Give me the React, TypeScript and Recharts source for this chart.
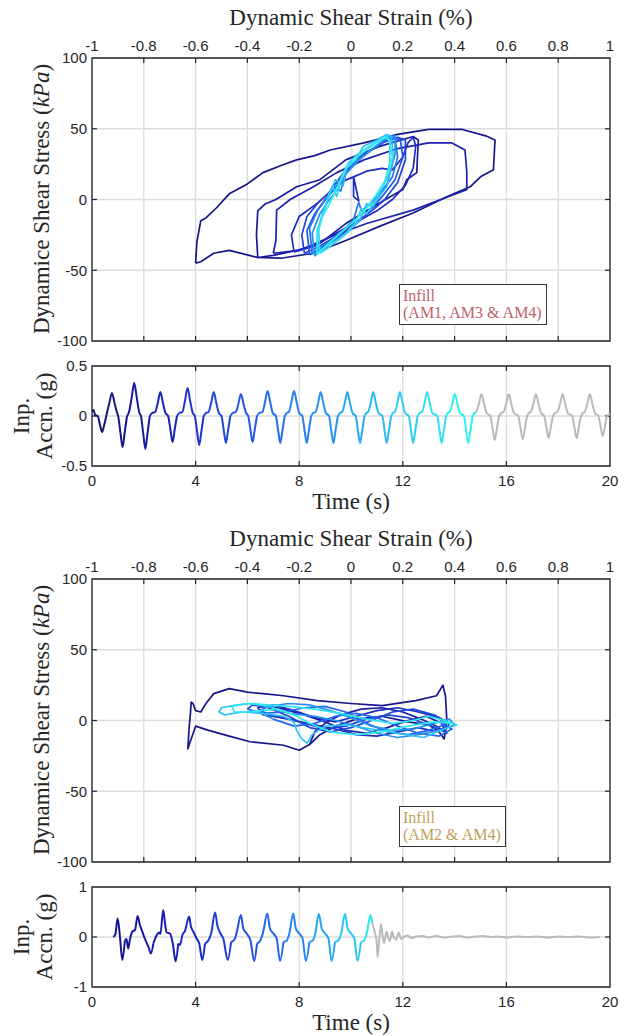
import React from "react";
import { LineChart, Line, XAxis, YAxis, CartesianGrid, ReferenceArea, ReferenceLine } from "recharts";

// axis ticks
const strainTicks = [-1, -0.8, -0.6, -0.4, -0.2, 0, 0.2, 0.4, 0.6, 0.8, 1];
const stressTicks = [-100, -50, 0, 50, 100];
const timeTicks = [0, 4, 8, 12, 16, 20];
const acc1Ticks = [-0.5, 0, 0.5];
const acc2Ticks = [-1, 0, 1];

// top panel loops (strain %, stress kPa) - AM1, AM3 & AM4
const p1Loop1 = [[-0.6, -45], [-0.595, -30], [-0.58, -15], [-0.56, -13], [-0.52, -6], [-0.47, 4], [-0.4, 11], [-0.34, 19], [-0.27, 24], [-0.21, 28], [-0.14, 31], [-0.08, 35], [0.05, 40], [0.18, 46], [0.3, 49.5], [0.43, 49.5], [0.52, 45], [0.556, 42], [0.55, 21], [0.5, 16], [0.46, 9], [0.37, 2], [0.24, -9.5], [0.11, -19], [-0.02, -29], [-0.145, -38], [-0.27, -41.5], [-0.36, -41], [-0.47, -36], [-0.53, -38], [-0.58, -44], [-0.6, -45]];
const p1Loop2 = [[-0.36, -41], [-0.365, -25], [-0.36, -8], [-0.33, -3], [-0.29, 0], [-0.21, 9], [-0.12, 14], [-0.02, 28], [0.11, 37.5], [0.24, 44.5], [0.26, 42], [0.256, 28], [0.254, 19], [0.215, 14], [0.2, 7], [0.11, -2.5], [-0.02, -17], [-0.12, -31], [-0.21, -36], [-0.3, -39.5], [-0.36, -41]];
const p1Loop3 = [[-0.3, -38], [-0.29, -29], [-0.287, -7.5], [-0.235, 0], [-0.145, 9], [-0.055, 19], [0.05, 28], [0.18, 36], [0.3, 40], [0.39, 40], [0.44, 35], [0.447, 20], [0.447, 7], [0.39, 3], [0.24, -7.5], [0.06, -17], [-0.08, -26.5], [-0.2, -36], [-0.3, -38]];
const p1Loop4 = [[-0.22, -37], [-0.23, -25], [-0.2, -12], [-0.14, -4], [-0.08, 5], [-0.03, 13], [0.01, 16], [0.01, 2], [0.03, -1], [0.01, 16], [0.06, 20], [0.12, 22], [0.16, 21], [0.2, 30], [0.22, 40], [0.24, 44], [0.25, 38], [0.24, 22], [0.21, 10], [0.16, 0], [0.1, -8], [0.02, -16], [-0.06, -24], [-0.14, -33], [-0.22, -37]];
const p1Loop5 = [[-0.18, -38], [-0.19, -25], [-0.17, -12], [-0.13, -3], [-0.08, 6], [-0.04, 16], [0, 26], [0.06, 33], [0.12, 40], [0.18, 44], [0.21, 42], [0.21, 28], [0.18, 12], [0.13, 0], [0.08, -8], [0.02, -16], [-0.05, -25], [-0.12, -33], [-0.18, -38]];
const p1Loop6 = [[-0.16, -39], [-0.17, -22], [-0.14, -10], [-0.1, 0], [-0.06, 8], [-0.03, 18], [0.02, 27], [0.08, 35], [0.14, 42], [0.19, 43], [0.2, 30], [0.17, 14], [0.12, 2], [0.08, -6], [0.04, -14], [0, -20], [-0.06, -28], [-0.11, -35], [-0.16, -39]];
const p1Loop7 = [[-0.15, -38], [-0.16, -20], [-0.13, -8], [-0.09, 2], [-0.07, 10], [-0.04, 6], [-0.02, 18], [0.02, 26], [0.07, 34], [0.13, 42], [0.17, 44], [0.18, 30], [0.16, 16], [0.11, 4], [0.07, -4], [0.04, -8], [0.03, -2], [0.01, -14], [-0.04, -24], [-0.1, -32], [-0.15, -38]];
const p1Loop8 = [[-0.14, -40], [-0.15, -24], [-0.12, -10], [-0.09, -2], [-0.05, 8], [-0.02, 18], [0.03, 28], [0.09, 37], [0.14, 44], [0.17, 45], [0.17, 32], [0.15, 18], [0.11, 6], [0.07, -4], [0.03, -12], [-0.02, -20], [-0.07, -28], [-0.11, -34], [-0.14, -40]];
const p1Loop9 = [[-0.13, -38], [-0.13, -22], [-0.11, -10], [-0.08, 4.6], [-0.06, 14], [-0.03, 10], [-0.017, 22], [0.02, 28], [0.047, 37.5], [0.1, 42], [0.138, 46], [0.157, 44.5], [0.163, 28], [0.138, 9], [0.1, 0], [0.086, -5], [0.06, -3], [0.035, -14.5], [-0.017, -24], [-0.08, -31], [-0.13, -38]];
const p1Loop10 = [[-0.12, -38], [-0.125, -20], [-0.1, -6], [-0.085, 4], [-0.07, 9], [-0.055, 2], [-0.04, 14], [-0.01, 26], [0.04, 34], [0.1, 41], [0.14, 45], [0.15, 40], [0.15, 26], [0.13, 12], [0.09, -2], [0.06, -10], [0.04, -6], [0.02, -16], [-0.03, -26], [-0.08, -33], [-0.12, -38]];
const p1Loop11 = [[-0.13, -39], [-0.13, -25], [-0.11, -12], [-0.08, -2], [-0.05, 10], [-0.02, 22], [0.03, 31], [0.09, 39], [0.13, 44], [0.15, 42], [0.16, 30], [0.14, 16], [0.1, 4], [0.06, -6], [0.02, -14], [-0.03, -22], [-0.08, -30], [-0.13, -39]];
const p1Colors = ["#16168a", "#1a1a9c", "#1c20ae", "#1e2ac0", "#2042d8", "#2258e8", "#2674f0", "#2892f2", "#2cb8f2", "#2ed8f2", "#32eef0"];

// lower panel loops - AM2 & AM4
const p3Loop1 = [[-0.16, -17], [-0.2, -21], [-0.26, -17.5], [-0.39, -15], [-0.47, -11], [-0.55, -7], [-0.6, -4], [-0.615, -12], [-0.63, -20], [-0.625, -5], [-0.62, 5], [-0.617, 13], [-0.61, 12], [-0.6, 7], [-0.58, 6], [-0.56, 12], [-0.53, 19], [-0.47, 22.5], [-0.4, 20], [-0.34, 19], [-0.26, 17.5], [-0.13, 14], [0, 12], [0.12, 10.5], [0.25, 14], [0.33, 17.5], [0.355, 25], [0.365, 17], [0.37, 0], [0.36, -13], [0.34, -8], [0.3, -3], [0.22, -1], [0.12, 3], [0.02, 1], [-0.06, -4], [-0.12, -10], [-0.16, -17]];
const p3Loop2 = [[-0.16, -17], [-0.14, -8], [-0.1, -2], [-0.04, 4], [0.04, 8], [0.12, 9], [0.2, 6], [0.27, 1], [0.33, -4], [0.37, -9], [0.35, -2], [0.29, 3], [0.22, 0], [0.14, -5], [0.06, -9], [-0.02, -7], [-0.1, -1], [-0.18, 4], [-0.26, 8], [-0.32, 10], [-0.35, 7], [-0.3, 3], [-0.22, 0], [-0.14, -3]];
const p3Loop3 = [[-0.14, -3], [-0.06, -6], [0.02, -10], [0.1, -11], [0.18, -8], [0.26, -5], [0.33, -8], [0.37, -4], [0.34, 2], [0.26, 6], [0.18, 9], [0.1, 7], [0.02, 3], [-0.06, -1], [-0.14, 2], [-0.22, 7], [-0.3, 11], [-0.36, 9], [-0.34, 4], [-0.26, 2]];
const p3Loop4 = [[-0.26, 2], [-0.18, -2], [-0.1, -6], [-0.02, -4], [0.06, 1], [0.14, 4], [0.22, 2], [0.3, -3], [0.36, -8], [0.38, -2], [0.32, 4], [0.24, 8], [0.16, 6], [0.08, 0], [0, -5], [-0.08, -8], [-0.16, -5], [-0.24, 3], [-0.32, 9], [-0.38, 11], [-0.4, 8]];
const p3Loop5 = [[-0.4, 8], [-0.34, 5], [-0.26, 6], [-0.18, 9], [-0.1, 10], [-0.02, 6], [0.06, -2], [0.14, -8], [0.22, -10], [0.3, -7], [0.36, -3], [0.39, -6], [0.34, -11], [0.26, -9], [0.18, -4], [0.1, 2], [0.02, 5], [-0.06, 3], [-0.14, -2], [-0.22, -4], [-0.3, 1]];
const p3Loop6 = [[-0.3, 1], [-0.36, 6], [-0.32, 10], [-0.24, 12], [-0.16, 11], [-0.08, 7], [0, 2], [0.08, -4], [0.16, -7], [0.24, -6], [0.32, -2], [0.38, 1], [0.4, -3], [0.34, -7], [0.26, -10], [0.18, -12], [0.1, -9], [0.02, -4], [-0.06, 0], [-0.14, 3], [-0.24, 5]];
const p3Loop7 = [[-0.24, 5], [-0.3, 9], [-0.38, 12], [-0.44, 11], [-0.5, 9], [-0.51, 6], [-0.49, 4], [-0.42, 6], [-0.34, 5], [-0.26, 3], [-0.22, -1], [-0.21, -7], [-0.19, -13], [-0.17, -16], [-0.15, -10], [-0.1, -4], [-0.02, -3], [0.08, -6], [0.18, -9], [0.28, -12], [0.36, -6], [0.41, -3]];
const p3Loop8 = [[0.41, -3], [0.36, 0], [0.3, 3], [0.24, 0], [0.16, -2], [0.06, 1], [-0.04, 5], [-0.14, 8], [-0.24, 10], [-0.32, 11], [-0.4, 12], [-0.46, 10], [-0.45, 6], [-0.4, 6], [-0.34, 7], [-0.28, 8], [-0.22, 4], [-0.16, -2], [-0.08, -8], [0.02, -10], [0.12, -8], [0.22, -4], [0.32, -1], [0.39, -2]];
const p3Colors = ["#16168a", "#1c1ca4", "#1e2ebe", "#2048d8", "#2466ee", "#2890f2", "#2cc4f2", "#30e6f0"];

// input acceleration (time s, accn g) - top
const acc1Points = [
  [0, 0.05], [0.06, 0.06], [0.12, 0.01], [0.22, 0], [0.31, -0.09], [0.39, -0.16], [0.47, -0.09], [0.56, 0.01],
  [0.67, 0.13], [0.77, 0.23], [0.87, 0.13], [0.97, 0.03],
  [1.01, 0], [1.1, -0.17], [1.18, -0.31], [1.26, -0.17], [1.35, 0], [1.43, 0.04], [1.53, 0.18], [1.63, 0.33], [1.73, 0.18], [1.83, 0.03],
  [1.89, 0], [1.98, -0.18], [2.06, -0.33], [2.14, -0.18], [2.23, 0], [2.32, 0.03], [2.44, 0.04], [2.54, 0.13], [2.64, 0.24], [2.74, 0.13], [2.84, 0.03],
  [2.94, 0], [3.03, -0.14], [3.11, -0.26], [3.19, -0.14], [3.28, 0], [3.37, 0.03], [3.49, 0.04], [3.59, 0.15], [3.69, 0.28], [3.79, 0.15], [3.89, 0.03],
  [3.97, 0], [4.06, -0.16], [4.14, -0.29], [4.22, -0.16], [4.31, 0], [4.4, 0.03], [4.5, 0.04], [4.6, 0.13], [4.7, 0.24], [4.8, 0.13], [4.9, 0.03],
  [5.0, 0], [5.09, -0.15], [5.17, -0.27], [5.25, -0.15], [5.34, 0], [5.43, 0.03], [5.55, 0.04], [5.65, 0.12], [5.75, 0.22], [5.85, 0.12], [5.95, 0.03],
  [6.03, 0], [6.12, -0.14], [6.2, -0.26], [6.28, -0.14], [6.37, 0], [6.46, 0.03], [6.58, 0.04], [6.68, 0.14], [6.78, 0.25], [6.88, 0.14], [6.98, 0.03],
  [7.1, 0], [7.19, -0.15], [7.27, -0.27], [7.35, -0.15], [7.44, 0], [7.52, 0.03], [7.6, 0.04], [7.7, 0.14], [7.8, 0.25], [7.9, 0.14], [8.0, 0.03],
  [8.12, 0], [8.21, -0.15], [8.29, -0.27], [8.37, -0.15], [8.46, 0], [8.54, 0.03], [8.63, 0.04], [8.73, 0.13], [8.83, 0.24], [8.93, 0.13], [9.03, 0.03],
  [9.15, 0], [9.24, -0.15], [9.32, -0.27], [9.4, -0.15], [9.49, 0], [9.57, 0.03], [9.66, 0.04], [9.76, 0.13], [9.86, 0.24], [9.96, 0.13], [10.06, 0.03],
  [10.18, 0], [10.27, -0.15], [10.35, -0.27], [10.43, -0.15], [10.52, 0], [10.59, 0.03], [10.66, 0.04], [10.76, 0.13], [10.86, 0.24], [10.96, 0.13], [11.06, 0.03],
  [11.21, 0], [11.3, -0.15], [11.38, -0.27], [11.46, -0.15], [11.55, 0], [11.62, 0.03], [11.69, 0.04], [11.79, 0.13], [11.89, 0.24], [11.99, 0.13], [12.09, 0.03],
  [12.23, 0], [12.32, -0.15], [12.4, -0.27], [12.48, -0.15], [12.57, 0], [12.65, 0.03], [12.74, 0.04], [12.84, 0.13], [12.94, 0.24], [13.04, 0.13], [13.14, 0.03],
  [13.33, 0], [13.42, -0.15], [13.5, -0.27], [13.58, -0.15], [13.67, 0], [13.74, 0.03], [13.81, 0.04], [13.91, 0.12], [14.01, 0.22], [14.11, 0.12], [14.21, 0.03],
  [14.36, 0], [14.45, -0.15], [14.53, -0.27], [14.61, -0.15], [14.7, 0], [14.77, 0.03], [14.84, 0.04], [14.94, 0.12], [15.04, 0.22], [15.14, 0.12], [15.24, 0.03],
  [15.38, 0], [15.47, -0.13], [15.55, -0.24], [15.63, -0.13], [15.72, 0], [15.8, 0.03], [15.89, 0.04], [15.99, 0.12], [16.09, 0.22], [16.19, 0.12], [16.29, 0.03],
  [16.46, 0], [16.55, -0.13], [16.63, -0.23], [16.71, -0.13], [16.8, 0], [16.87, 0.03], [16.94, 0.04], [17.04, 0.12], [17.14, 0.22], [17.24, 0.12], [17.34, 0.03],
  [17.46, 0], [17.55, -0.12], [17.63, -0.22], [17.71, -0.12], [17.8, 0], [17.88, 0.03], [17.97, 0.04], [18.07, 0.12], [18.17, 0.22], [18.27, 0.12], [18.37, 0.03],
  [18.54, 0], [18.63, -0.12], [18.71, -0.22], [18.79, -0.12], [18.88, 0], [18.95, 0.03], [19.02, 0.04], [19.12, 0.12], [19.22, 0.22], [19.32, 0.12], [19.42, 0.03],
  [19.55, 0], [19.64, -0.11], [19.72, -0.2], [19.8, -0.11], [19.89, 0], [20, 0.02],
];
const acc1Breaks = [0.56, 1.35, 2.23, 3.28, 4.31, 5.34, 6.37, 7.44, 8.46, 9.49, 10.52, 11.55, 12.57, 13.67, 14.84];
const acc1Colors = ["#161670", "#181888", "#1a1aa0", "#1c24b8", "#1e34cc", "#2046dc", "#2258e8", "#246cf0", "#2680f2", "#2894f2", "#2aa8f2", "#2cbcf2", "#2ed0f2", "#30e2f0", "#32f0f0", "#bababa"];

// input acceleration - bottom
const acc2Points = [
  [0.82, 0], [0.9, 0.05], [0.99, 0.37], [1.08, 0], [1.17, -0.46], [1.27, -0.07],
  [1.33, -0.04], [1.4, -0.23], [1.46, -0.06], [1.56, 0.11], [1.66, 0.14], [1.76, 0.42], [1.85, 0.24], [1.94, 0.11], [2.04, -0.03], [2.18, -0.2], [2.27, -0.33], [2.37, -0.13],
  [2.5, 0.04], [2.59, 0.09], [2.64, 0.06], [2.75, 0.54], [2.82, 0.27], [2.88, 0.09], [3.01, 0.07], [3.12, -0.13], [3.23, -0.49], [3.33, -0.13],
  [3.4, -0.16], [3.49, 0.04], [3.59, 0.12], [3.75, 0.41], [3.82, 0.21], [3.91, 0.11], [4.04, -0.03], [4.14, -0.13], [4.26, -0.46], [4.36, -0.13],
  [4.49, -0.07], [4.6, 0.07], [4.75, 0.49], [4.85, 0.21], [4.94, 0.09], [5.07, -0.03], [5.24, -0.46], [5.37, -0.1],
  [5.5, -0.05], [5.59, 0.1], [5.75, 0.44], [5.84, 0.17], [5.97, 0.07], [6.12, -0.07], [6.26, -0.48], [6.37, -0.13],
  [6.5, -0.07], [6.6, 0.08], [6.77, 0.47], [6.87, 0.17], [7.0, 0.07], [7.13, -0.03], [7.26, -0.48], [7.39, -0.1],
  [7.52, -0.07], [7.62, 0.07], [7.77, 0.47], [7.87, 0.17], [8.0, 0.07], [8.13, -0.03], [8.26, -0.48], [8.39, -0.1],
  [8.52, -0.07], [8.62, 0.07], [8.76, 0.46], [8.87, 0.17], [9.0, 0.07], [9.13, -0.03], [9.25, -0.48], [9.38, -0.1],
  [9.51, -0.07], [9.62, 0.07], [9.77, 0.46], [9.87, 0.17], [10.0, 0.07], [10.13, -0.03], [10.25, -0.48], [10.38, -0.1],
  [10.5, -0.07], [10.61, 0.08], [10.76, 0.44], [10.82, 0.28],
  [10.92, 0.09], [10.99, -0.1], [11.03, -0.4], [11.09, -0.05], [11.16, 0.26], [11.22, 0.02], [11.28, -0.12], [11.37, 0.11], [11.44, -0.02], [11.5, -0.08],
  [11.59, 0.11], [11.65, -0.01], [11.75, -0.05], [11.84, 0.09], [11.94, -0.04], [12.07, 0.01], [12.2, 0.03], [12.33, -0.02], [12.52, 0.01], [12.75, 0.02],
  [13.0, -0.01], [13.3, 0.02], [13.6, -0.01], [13.9, 0.01], [14.2, 0.02], [14.5, -0.01], [14.8, 0.01], [15.1, 0.02], [15.4, 0], [15.7, 0.01],
  [16.0, -0.01], [16.4, 0.01], [16.8, 0], [17.2, 0.01], [17.6, -0.01], [18.0, 0.01], [18.4, 0], [18.8, 0.01], [19.2, -0.01], [19.6, 0],
];
const acc2Breaks = [1.27, 2.37, 3.33, 4.36, 5.37, 6.37, 7.39, 8.39, 9.38, 10.38, 10.82];
const acc2Colors = ["#151590", "#1717a0", "#1a1ab4", "#1c28c4", "#1e3cd4", "#2050e4", "#2266ee", "#2484f2", "#26a4f2", "#28c6f2", "#2ae6f0", "#bababa"];

const SERIF = "'Liberation Serif', 'Times New Roman', serif";
const SANS = "'Liberation Sans', Arial, sans-serif";
const INK = "#262626";
const W = 626;
const PLOT_LEFT = 92;
const PLOT_RIGHT = 610;

const toXY = (pts: number[][]) => pts.map(([x, y]) => ({ x, y }));

const splitSegments = (pts: number[][], breaks: number[], colors: string[]) => {
  const bounds = [pts[0][0], ...breaks, pts[pts.length - 1][0]];
  return colors.map((color, i) => ({
    color,
    data: toXY(pts.filter(([t]) => t >= bounds[i] && t <= bounds[i + 1])),
  }));
};

// inward tick marks on all four sides, like a boxed matlab axes
const tickMarks = (xTicks: number[], yTicks: number[], dx: number, dy: number) => {
  const [x0, x1] = [xTicks[0], xTicks[xTicks.length - 1]];
  const [y0, y1] = [yTicks[0], yTicks[yTicks.length - 1]];
  const segs: { x: number; y: number }[][] = [];
  xTicks.slice(1, -1).forEach((x) => {
    segs.push([{ x, y: y0 }, { x, y: y0 + dy }]);
    segs.push([{ x, y: y1 }, { x, y: y1 - dy }]);
  });
  yTicks.slice(1, -1).forEach((y) => {
    segs.push([{ x: x0, y }, { x: x0 + dx, y }]);
    segs.push([{ x: x1, y }, { x: x1 - dx, y }]);
  });
  return segs;
};

const tickStyle = { fill: INK, fontSize: 15, fontFamily: SANS };

const Txt = ({ x, y, rotate, size = 23, children }: any) => (
  <div
    style={{
      position: "absolute",
      left: x,
      top: y,
      transform: `translate(-50%, -50%)${rotate ? " rotate(-90deg)" : ""}`,
      whiteSpace: "nowrap",
      fontFamily: SERIF,
      fontSize: size,
      color: INK,
      lineHeight: 1,
    }}
  >
    {children}
  </div>
);

const LegendBox = ({ x, y, color, lines }: any) => (
  <div
    style={{
      position: "absolute",
      left: x,
      top: y,
      border: "1px solid #333",
      background: "#fff",
      padding: "2px 4px 3px 3px",
      fontFamily: SERIF,
      fontSize: 16,
      lineHeight: "17px",
      color,
      whiteSpace: "nowrap",
    }}
  >
    {lines.map((l: string) => (
      <div key={l}>{l}</div>
    ))}
  </div>
);

const LoopChart = ({ top, loops, colors }: { top: number; loops: number[][][]; colors: string[] }) => {
  const height = 360;
  return (
    <div style={{ position: "absolute", left: 0, top }}>
      <LineChart width={W} height={height} margin={{ top: 38, right: W - PLOT_RIGHT, bottom: 19, left: 0 }}>
        <CartesianGrid stroke="#dcdcdc" strokeWidth={1.3} />
        <XAxis
          type="number"
          dataKey="x"
          orientation="top"
          domain={[-1, 1]}
          ticks={strainTicks}
          height={20}
          axisLine={false}
          tickLine={false}
          tickSize={0}
          tickMargin={7}
          tick={tickStyle}
          interval={0}
        />
        <YAxis
          type="number"
          domain={[-100, 100]}
          ticks={stressTicks}
          width={PLOT_LEFT}
          axisLine={false}
          tickLine={false}
          tickSize={0}
          tickMargin={5}
          tick={tickStyle}
          interval={0}
        />
        {tickMarks(strainTicks, stressTicks, 0.019, 3.5).map((s, i) => (
          <ReferenceLine key={`tk${i}`} segment={s} stroke={INK} strokeWidth={1.2} />
        ))}
        {loops.map((pts, i) => (
          <Line
            key={`loop${i}`}
            data={toXY(pts)}
            dataKey="y"
            type="linear"
            stroke={colors[i]}
            strokeWidth={1.7}
            strokeLinejoin="round"
            dot={false}
            activeDot={false}
            isAnimationActive={false}
          />
        ))}
        <ReferenceArea x1={-1} x2={1} y1={-100} y2={100} fill="none" stroke={INK} strokeWidth={1.3} />
      </LineChart>
    </div>
  );
};

const AccChart = ({ top, height, marginTop, points, breaks, colors, yTicks }: any) => {
  const segments = splitSegments(points, breaks, colors);
  const yMax = yTicks[yTicks.length - 1];
  return (
    <div style={{ position: "absolute", left: 0, top }}>
      <LineChart width={W} height={height} margin={{ top: marginTop, right: W - PLOT_RIGHT, bottom: height - marginTop - 120, left: 0 }}>
        <CartesianGrid stroke="#dcdcdc" strokeWidth={1.3} />
        <XAxis
          type="number"
          dataKey="x"
          domain={[0, 20]}
          ticks={timeTicks}
          height={20}
          axisLine={false}
          tickLine={false}
          tickSize={0}
          tickMargin={9}
          tick={tickStyle}
          interval={0}
        />
        <YAxis
          type="number"
          domain={[-yMax, yMax]}
          ticks={yTicks}
          width={PLOT_LEFT}
          axisLine={false}
          tickLine={false}
          tickSize={0}
          tickMargin={5}
          tick={tickStyle}
          interval={0}
        />
        {tickMarks(timeTicks, yTicks, 0.19, yMax * 0.1).map((s, i) => (
          <ReferenceLine key={`tk${i}`} segment={s} stroke={INK} strokeWidth={1.2} />
        ))}
        {segments.map((seg, i) => (
          <Line
            key={`seg${i}`}
            data={seg.data}
            dataKey="y"
            type="monotoneX"
            stroke={seg.color}
            strokeWidth={2}
            dot={false}
            activeDot={false}
            isAnimationActive={false}
          />
        ))}
        <ReferenceArea x1={0} x2={20} y1={-yMax} y2={yMax} fill="none" stroke={INK} strokeWidth={1.3} />
      </LineChart>
    </div>
  );
};

const App = () => {
  const cx = (PLOT_LEFT + PLOT_RIGHT) / 2;
  return (
    <div style={{ position: "absolute", left: 0, top: 0, width: W, height: 1036, background: "#fff", overflow: "hidden" }}>
      {/* AM1, AM3 & AM4 */}
      <LoopChart
        top={0}
        loops={[p1Loop1, p1Loop2, p1Loop3, p1Loop4, p1Loop5, p1Loop6, p1Loop7, p1Loop8, p1Loop9, p1Loop10, p1Loop11]}
        colors={p1Colors}
      />
      <Txt x={cx} y={17}>Dynamic Shear Strain (%)</Txt>
      <Txt x={41} y={199} rotate>
        Dynamice Shear Stress (<i>kPa</i>)
      </Txt>
      <LegendBox x={399} y={284} color="#c0616b" lines={["Infill", "(AM1, AM3 & AM4)"]} />

      <AccChart top={346} height={174} marginTop={20} points={acc1Points} breaks={acc1Breaks} colors={acc1Colors} yTicks={acc1Ticks} />
      <Txt x={cx} y={501}>Time (s)</Txt>
      <Txt x={21} y={416} rotate>Inp.</Txt>
      <Txt x={44} y={416} rotate>Accn. (g)</Txt>

      {/* AM2 & AM4 */}
      <LoopChart
        top={521}
        loops={[p3Loop1, p3Loop2, p3Loop3, p3Loop4, p3Loop5, p3Loop6, p3Loop7, p3Loop8]}
        colors={p3Colors}
      />
      <Txt x={cx} y={538}>Dynamic Shear Strain (%)</Txt>
      <Txt x={41} y={720} rotate>
        Dynamice Shear Stress (<i>kPa</i>)
      </Txt>
      <LegendBox x={399} y={806} color="#c29f58" lines={["Infill", "(AM2 & AM4)"]} />

      <AccChart top={867} height={169} marginTop={20} points={acc2Points} breaks={acc2Breaks} colors={acc2Colors} yTicks={acc2Ticks} />
      <Txt x={cx} y={1022}>Time (s)</Txt>
      <Txt x={21} y={937} rotate>Inp.</Txt>
      <Txt x={44} y={937} rotate>Accn. (g)</Txt>
    </div>
  );
};

export default App;
